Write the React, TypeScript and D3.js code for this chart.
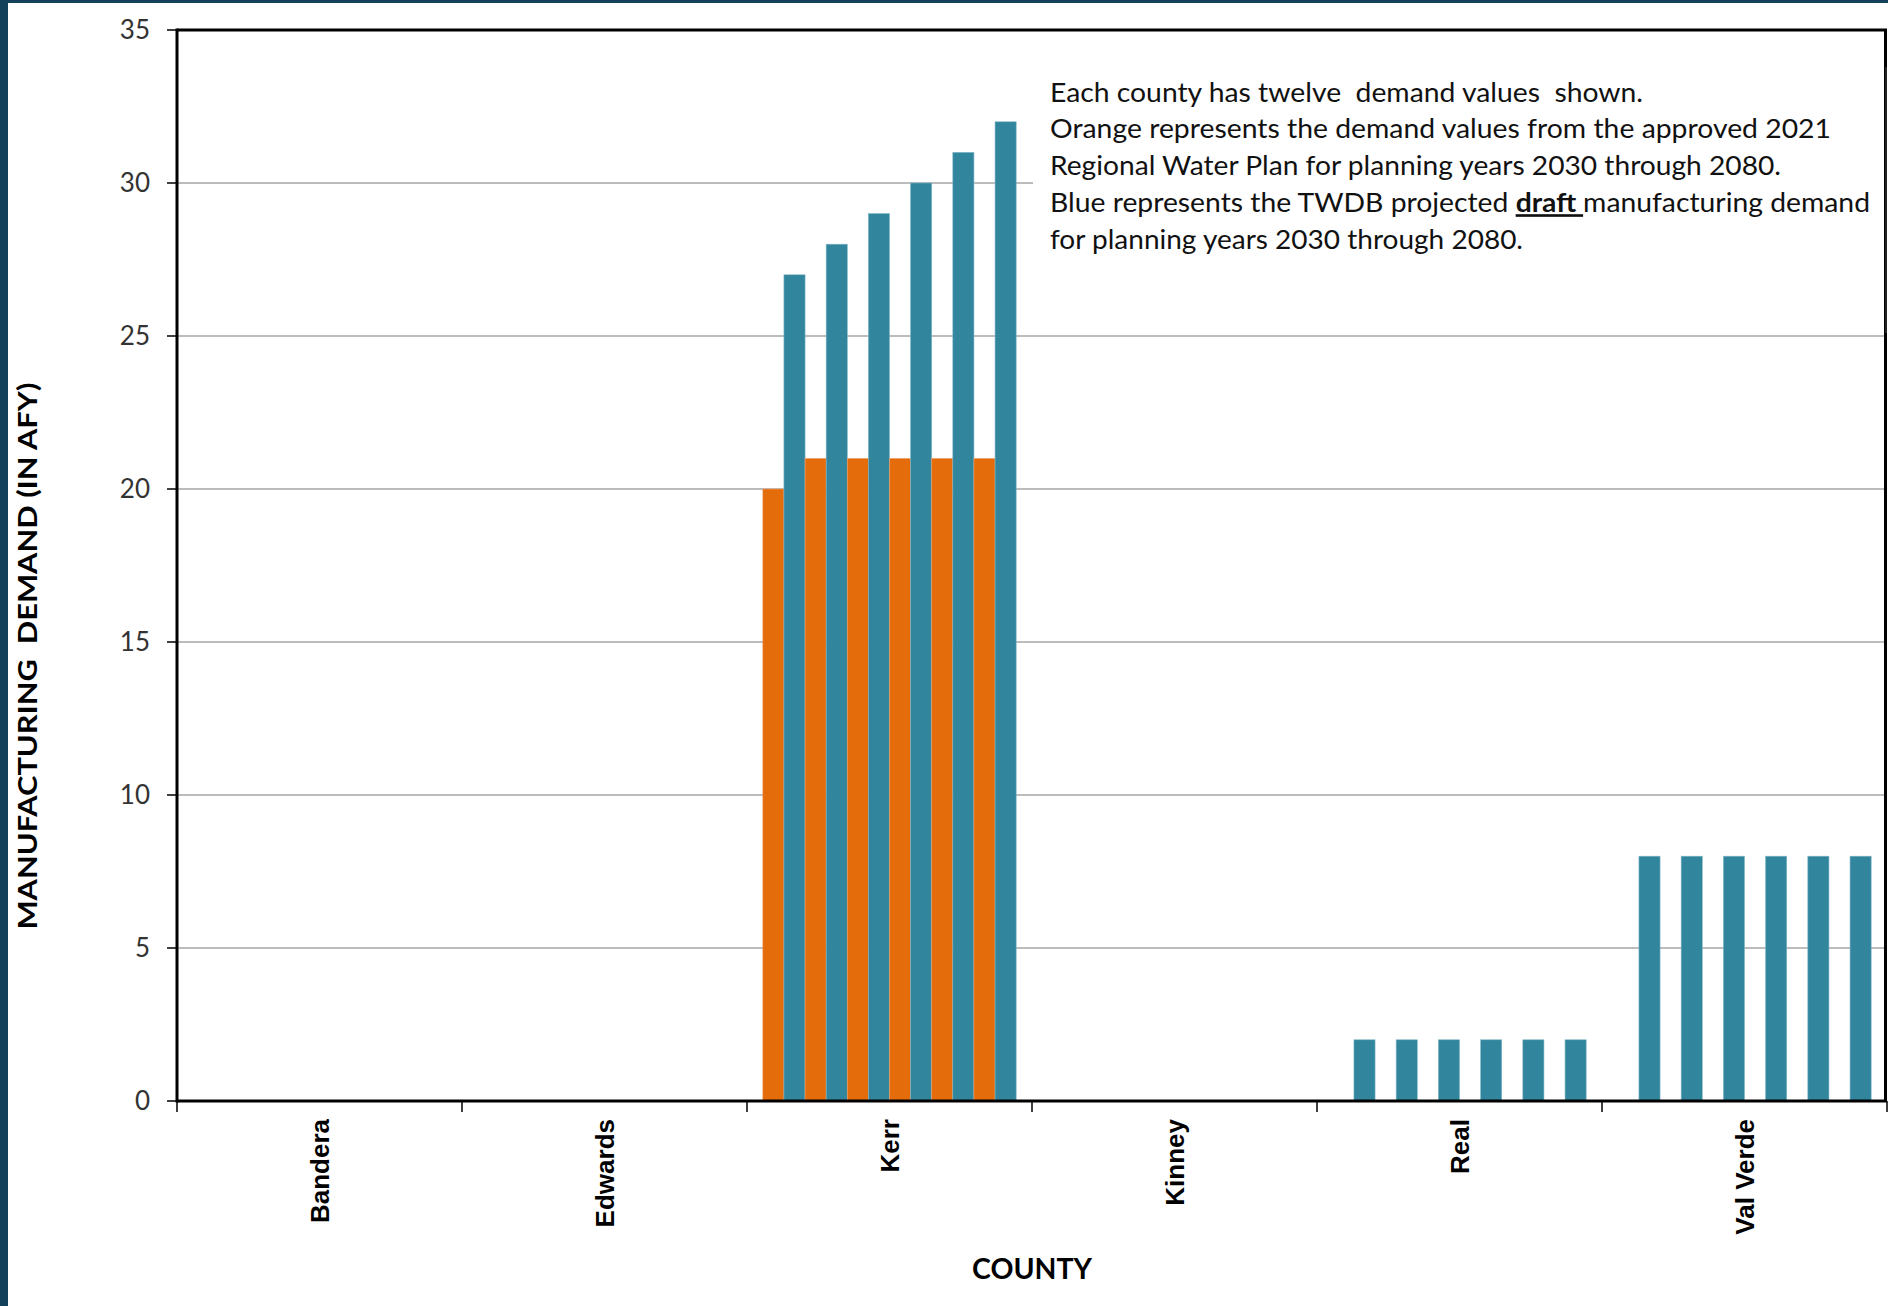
import React from "react";
import * as d3 from "d3";

const counties = ["Bandera", "Edwards", "Kerr", "Kinney", "Real", "Val Verde"];
const years = [2030, 2040, 2050, 2060, 2070, 2080];
// 2021 Regional Water Plan (orange), per county, years 2030..2080
const rwp2021Demand = [
  [0, 0, 0, 0, 0, 0],
  [0, 0, 0, 0, 0, 0],
  [20, 21, 21, 21, 21, 21],
  [0, 0, 0, 0, 0, 0],
  [0, 0, 0, 0, 0, 0],
  [0, 0, 0, 0, 0, 0],
];
// TWDB draft projections (blue), per county, years 2030..2080
const draftDemand = [
  [0, 0, 0, 0, 0, 0],
  [0, 0, 0, 0, 0, 0],
  [27, 28, 29, 30, 31, 32],
  [0, 0, 0, 0, 0, 0],
  [2, 2, 2, 2, 2, 2],
  [8, 8, 8, 8, 8, 8],
];
const yTicks = [0, 5, 10, 15, 20, 25, 30, 35];
const noteLines = [
  "Each county has twelve  demand values  shown.",
  "Orange represents the demand values from the approved 2021",
  "Regional Water Plan for planning years 2030 through 2080.",
  "Blue represents the TWDB projected |draft |manufacturing demand",
  "for planning years 2030 through 2080.",
];
const noteWidths = [593, 781, 731, 820, 473];

const ORANGE = "#E46C0A";
const BLUE = "#31859C";

export default function App() {
  const W = 1888;
  const H = 1306;
  const left = 177;
  const right = 1887;
  const top = 30;
  const bottom = 1101;

  const x = d3.scaleBand<string>().domain(counties).range([left, right]).paddingInner(0).paddingOuter(0);
  const y = d3.scaleLinear().domain([0, 35]).range([bottom, top]);
  const subKeys = years.flatMap((yr) => [`${yr}-rwp`, `${yr}-draft`]);
  const xs = d3.scaleBand<string>().domain(subKeys).range([0, x.bandwidth()]).paddingInner(0).paddingOuter(0.75);

  const bars: { key: string; x: number; w: number; y: number; h: number; color: string }[] = [];
  counties.forEach((c, ci) => {
    years.forEach((yr, yi) => {
      const vals: [string, number, string][] = [
        [`${yr}-rwp`, rwp2021Demand[ci][yi], ORANGE],
        [`${yr}-draft`, draftDemand[ci][yi], BLUE],
      ];
      vals.forEach(([k, v, col]) => {
        if (v > 0) {
          bars.push({
            key: `${c}-${k}`,
            x: (x(c) as number) + (xs(k) as number),
            w: xs.bandwidth(),
            y: y(v),
            h: y(0) - y(v),
            color: col,
          });
        }
      });
    });
  });

  const textFont = "Lato, 'Open Sans', sans-serif";
  const boxLeft = 1033;
  const boxTop = 67;
  const boxBottom = 333;

  return (
    <svg
      width={W}
      height={H}
      style={{ position: "absolute", left: 0, top: 0, background: "#fff" }}
    >
      {/* dark frame */}
      <rect x={0} y={0} width={W} height={H} fill="#ffffff" />
      <rect x={0} y={0} width={8} height={H} fill="#13405A" />
      <rect x={0} y={0} width={W} height={3} fill="#13405A" />

      {/* gridlines */}
      {yTicks.filter((t) => t > 0).map((t) => (
        <line key={`g${t}`} x1={left} x2={right} y1={y(t)} y2={y(t)} stroke="#A6A6A6" strokeWidth={1.5} />
      ))}

      {/* bars */}
      {bars.map((b) => (
        <rect key={b.key} x={b.x} y={b.y} width={b.w} height={b.h} fill={b.color} stroke={b.color === BLUE ? "#7fb5c6" : "#f0a070"} strokeWidth={0.6} />
      ))}

      {/* plot border */}
      <line x1={left} x2={right} y1={top} y2={top} stroke="#000" strokeWidth={3} />
      <line x1={right - 1.5} x2={right - 1.5} y1={top} y2={bottom} stroke="#000" strokeWidth={3} />
      <line x1={left} x2={left} y1={top - 1.5} y2={bottom + 1.5} stroke="#000" strokeWidth={3} />
      <line x1={left} x2={right} y1={bottom} y2={bottom} stroke="#000" strokeWidth={3} />

      {/* y ticks */}
      {yTicks.map((t) => (
        <g key={`yt${t}`}>
          <line x1={left - 10} x2={left} y1={y(t)} y2={y(t)} stroke="#000" strokeWidth={1.5} />
          <text x={150} y={y(t)} dy="0.36em" textAnchor="end" fontFamily={textFont} fontSize={26} fill="#333">
            {t}
          </text>
        </g>
      ))}

      {/* x ticks */}
      {d3.range(counties.length + 1).map((i) => {
        const xx = left + i * x.step();
        return <line key={`xt${i}`} x1={xx} x2={xx} y1={bottom} y2={bottom + 11} stroke="#000" strokeWidth={1.5} />;
      })}

      {/* x labels */}
      {counties.map((c) => {
        const cx = (x(c) as number) + x.bandwidth() / 2;
        return (
          <text
            key={`xl${c}`}
            transform={`translate(${cx},${1119}) rotate(-90)`}
            textAnchor="end"
            dy="0.36em"
            fontFamily="'Liberation Sans', Arial, sans-serif"
            fontWeight="bold"
            fontSize={26}
            fill="#000"
          >
            {c}
          </text>
        );
      })}

      {/* axis titles */}
      <text
        transform={`translate(${37},${656}) rotate(-90)`}
        textAnchor="middle"
        fontFamily={textFont}
        fontWeight="bold"
        fontSize={26}
        fill="#000"
        textLength={547}
        lengthAdjust="spacingAndGlyphs"
        style={{ whiteSpace: "pre" }}
      >
        MANUFACTURING  DEMAND (IN AFY)
      </text>
      <text
        x={1032}
        y={1279}
        textAnchor="middle"
        fontFamily={textFont}
        fontWeight="bold"
        fontSize={28}
        fill="#000"
        textLength={120}
        lengthAdjust="spacingAndGlyphs"
      >
        COUNTY
      </text>

      {/* note text box */}
      <rect x={boxLeft} y={boxTop} width={right - 3 - boxLeft} height={boxBottom - boxTop} fill="#fff" />
      <line x1={right - 1} x2={right - 1} y1={boxTop} y2={boxBottom} stroke="#444" strokeWidth={1} />
      {noteLines.map((ln, i) => {
        const parts = ln.split("|");
        return (
          <text
            key={`n${i}`}
            x={1050}
            y={101.5 + i * 36.9}
            fontFamily={textFont}
            fontSize={26.5}
            fill="#111"
            textLength={noteWidths[i]}
            lengthAdjust="spacingAndGlyphs"
            style={{ whiteSpace: "pre" }}
          >
            {parts.map((p, j) =>
              j === 1 ? (
                <tspan key={j} fontWeight="bold" textDecoration="underline">
                  {p}
                </tspan>
              ) : (
                <tspan key={j}>{p}</tspan>
              )
            )}
          </text>
        );
      })}
    </svg>
  );
}
